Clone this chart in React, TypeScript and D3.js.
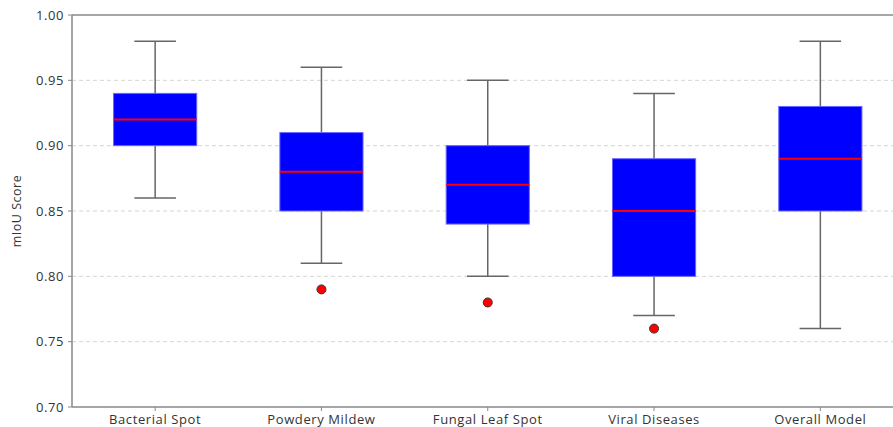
import { useEffect, useRef } from "react";
import * as d3 from "d3";

const categories = ["Bacterial Spot", "Powdery Mildew", "Fungal Leaf Spot", "Viral Diseases", "Overall Model"];
const whiskerLow = [0.86, 0.81, 0.8, 0.77, 0.76];
const q1 = [0.9, 0.85, 0.84, 0.8, 0.85];
const median = [0.92, 0.88, 0.87, 0.85, 0.89];
const q3 = [0.94, 0.91, 0.9, 0.89, 0.93];
const whiskerHigh = [0.98, 0.96, 0.95, 0.94, 0.98];
const outliers = [[], [0.79], [0.78], [0.76], []];
const yTicks = [0.7, 0.75, 0.8, 0.85, 0.9, 0.95, 1.0];

const W = 893;
const H = 427;
const margin = { top: 15, left: 72, bottom: 20 };
const FONT = "'Open Sans', Lato, sans-serif";

const App = () => {
  const ref = useRef<SVGSVGElement>(null);

  useEffect(() => {
    const svg = d3.select(ref.current);
    svg.selectAll("*").remove();

    const plotH = H - margin.top - margin.bottom;
    // matplotlib-style positions 1..5 with xlim 0.5..5.5 (right side is cropped)
    const x = d3.scaleLinear().domain([0.5, 5.5]).range([margin.left, margin.left + 831.5]);
    const y = d3.scaleLinear().domain([0.7, 1.0]).range([margin.top + plotH, margin.top]);
    const step = x(2) - x(1);
    const boxW = step * 0.5;
    const capW = boxW * 0.5;

    const g = svg.append("g");

    // grid
    g.selectAll(".grid")
      .data(yTicks.filter((t) => t > 0.7 && t < 1.0))
      .enter()
      .append("line")
      .attr("x1", margin.left)
      .attr("x2", W)
      .attr("y1", (d) => y(d))
      .attr("y2", (d) => y(d))
      .attr("stroke", "#d6d6d6")
      .attr("stroke-width", 1)
      .attr("stroke-dasharray", "4,3");

    const data = categories.map((c, i) => ({
      name: c,
      pos: i + 1,
      lo: whiskerLow[i],
      q1: q1[i],
      med: median[i],
      q3: q3[i],
      hi: whiskerHigh[i],
      out: outliers[i],
    }));

    const boxes = g.selectAll(".box").data(data).enter().append("g");

    // whiskers
    boxes.append("line")
      .attr("x1", (d) => x(d.pos))
      .attr("x2", (d) => x(d.pos))
      .attr("y1", (d) => y(d.lo))
      .attr("y2", (d) => y(d.q1))
      .attr("stroke", "#666")
      .attr("stroke-width", 1.5);
    boxes.append("line")
      .attr("x1", (d) => x(d.pos))
      .attr("x2", (d) => x(d.pos))
      .attr("y1", (d) => y(d.q3))
      .attr("y2", (d) => y(d.hi))
      .attr("stroke", "#666")
      .attr("stroke-width", 1.5);
    // caps
    boxes.append("line")
      .attr("x1", (d) => x(d.pos) - capW / 2)
      .attr("x2", (d) => x(d.pos) + capW / 2)
      .attr("y1", (d) => y(d.lo))
      .attr("y2", (d) => y(d.lo))
      .attr("stroke", "#666")
      .attr("stroke-width", 1.5);
    boxes.append("line")
      .attr("x1", (d) => x(d.pos) - capW / 2)
      .attr("x2", (d) => x(d.pos) + capW / 2)
      .attr("y1", (d) => y(d.hi))
      .attr("y2", (d) => y(d.hi))
      .attr("stroke", "#666")
      .attr("stroke-width", 1.5);

    // box
    boxes.append("rect")
      .attr("x", (d) => x(d.pos) - boxW / 2)
      .attr("width", boxW)
      .attr("y", (d) => y(d.q3))
      .attr("height", (d) => y(d.q1) - y(d.q3))
      .attr("fill", "#0000ff")
      .attr("stroke", "#6666ff")
      .attr("stroke-width", 1);

    // median
    boxes.append("line")
      .attr("x1", (d) => x(d.pos) - boxW / 2)
      .attr("x2", (d) => x(d.pos) + boxW / 2)
      .attr("y1", (d) => y(d.med))
      .attr("y2", (d) => y(d.med))
      .attr("stroke", "#ff0000")
      .attr("stroke-width", 2);

    // outliers
    boxes.each(function (d) {
      d3.select(this)
        .selectAll("circle")
        .data(d.out)
        .enter()
        .append("circle")
        .attr("cx", x(d.pos))
        .attr("cy", (v) => y(v))
        .attr("r", 4.5)
        .attr("fill", "#ff0000")
        .attr("stroke", "#333")
        .attr("stroke-width", 1);
    });

    // spines
    const axisColor = "#888";
    g.append("line")
      .attr("x1", margin.left).attr("x2", margin.left)
      .attr("y1", y(1.0)).attr("y2", y(0.7))
      .attr("stroke", axisColor).attr("stroke-width", 1.5);
    g.append("line")
      .attr("x1", margin.left).attr("x2", W)
      .attr("y1", y(1.0)).attr("y2", y(1.0))
      .attr("stroke", axisColor).attr("stroke-width", 1.5);
    g.append("line")
      .attr("x1", margin.left).attr("x2", W)
      .attr("y1", y(0.7)).attr("y2", y(0.7))
      .attr("stroke", axisColor).attr("stroke-width", 1.5);

    // y ticks
    const yt = g.selectAll(".yt").data(yTicks).enter().append("g");
    yt.append("line")
      .attr("x1", margin.left - 4).attr("x2", margin.left)
      .attr("y1", (d) => y(d)).attr("y2", (d) => y(d))
      .attr("stroke", axisColor).attr("stroke-width", 1);
    yt.append("text")
      .attr("x", margin.left - 8)
      .attr("y", (d) => y(d))
      .attr("dy", "0.35em")
      .attr("text-anchor", "end")
      .style("font-family", FONT)
      .style("font-size", "13px")
      .style("letter-spacing", "0.6px")
      .attr("fill", "#333")
      .text((d) => d3.format(".2f")(d));

    // x ticks
    const xt = g.selectAll(".xt").data(data).enter().append("g");
    xt.append("line")
      .attr("x1", (d) => x(d.pos)).attr("x2", (d) => x(d.pos))
      .attr("y1", y(0.7)).attr("y2", y(0.7) + 4)
      .attr("stroke", axisColor).attr("stroke-width", 1);
    xt.append("text")
      .attr("x", (d) => x(d.pos))
      .attr("y", y(0.7) + 17)
      .attr("text-anchor", "middle")
      .style("font-family", FONT)
      .style("font-size", "13px")
      .style("letter-spacing", "0.6px")
      .attr("fill", "#333")
      .text((d) => d.name);

    // y label
    g.append("text")
      .attr("transform", "translate(" + 21 + "," + (margin.top + plotH / 2) + ") rotate(-90)")
      .attr("text-anchor", "middle")
      .style("font-family", FONT)
      .style("font-size", "12.5px")
      .style("letter-spacing", "0.5px")
      .attr("fill", "#333")
      .text("mIoU Score");
  }, []);

  return (
    <svg
      ref={ref}
      width={W}
      height={H}
      style={{ position: "absolute", left: 0, top: 0, background: "#fff" }}
    />
  );
};

export default App;
